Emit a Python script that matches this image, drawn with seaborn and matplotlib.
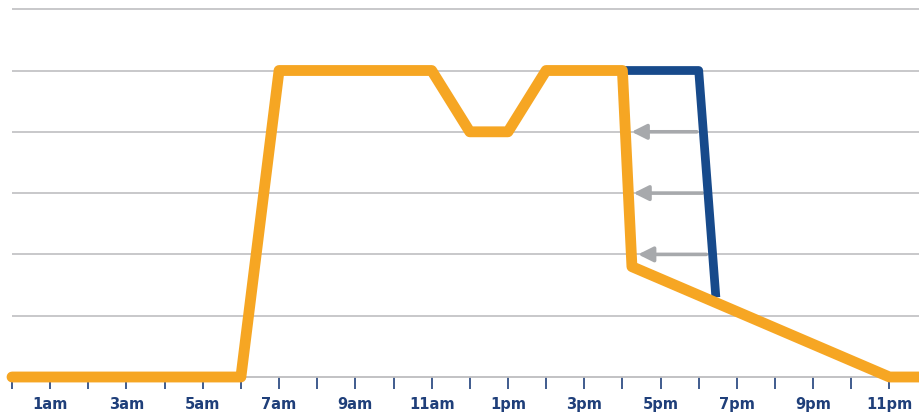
import matplotlib
matplotlib.use("Agg")
import matplotlib.pyplot as plt
import seaborn as sns
import pandas as pd

# Data (x in hours after midnight, y in grid levels)
orange_hours = [0, 6, 7, 11, 12, 13, 14, 16, 16.25, 23, 24]
orange_level = [0, 0, 5, 5, 4, 4, 5, 5, 1.8, 0, 0]
blue_hours = [16, 18, 18.45]
blue_level = [5, 5, 1.3]
arrow_level = [4, 3, 2]
arrow_tail = [17.95, 18.1, 18.2]
arrow_tip = [16.24, 16.29, 16.41]
tick_hours = list(range(0, 24))
label_hours = list(range(1, 24, 2))
tick_labels = ["1am", "3am", "5am", "7am", "9am", "11am",
               "1pm", "3pm", "5pm", "7pm", "9pm", "11pm"]

ORANGE = "#F6A623"
BLUE = "#174A8B"
GRAY = "#A7A9AC"
NAVY = "#1F3F7A"

sns.set_style("white")

fig = plt.figure(figsize=(9.19, 4.14), dpi=100)
ax = fig.add_axes([0, 36 / 414, 1, 378 / 414])

# grid lines
for lv in range(0, 7):
    ax.plot([0, 24], [lv, lv], color="#C4C4C6" if lv else "#BDBDBF",
            lw=1.3, zorder=1, solid_capstyle="butt")

# arrows
for lv, tail, tip in zip(arrow_level, arrow_tail, arrow_tip):
    ax.annotate("", xy=(tip, lv), xytext=(tail, lv),
                arrowprops=dict(arrowstyle="-|>,head_length=0.9,head_width=0.45",
                                color=GRAY, lw=2.6, shrinkA=0, shrinkB=0),
                zorder=2)

df_blue = pd.DataFrame({"hour": blue_hours, "level": blue_level})
df_orange = pd.DataFrame({"hour": orange_hours, "level": orange_level})

sns.lineplot(data=df_blue, x="hour", y="level", ax=ax, color=BLUE, lw=6.3,
             estimator=None, sort=False, zorder=3,
             solid_joinstyle="round", solid_capstyle="butt")
sns.lineplot(data=df_orange, x="hour", y="level", ax=ax, color=ORANGE, lw=7.8,
             estimator=None, sort=False, zorder=4,
             solid_joinstyle="round", solid_capstyle="round")
for ln in ax.lines:
    ln.set_clip_on(False)

ax.set_xlim(-12 / 38.15, (919 - 12) / 38.15)
ax.set_ylim(0, 378 / 61.3)

labels = dict(zip(label_hours, tick_labels))
ax.set_xticks(tick_hours)
ax.set_xticklabels([labels.get(h, "") for h in tick_hours])
ax.tick_params(axis="x", length=8.5, width=1.2, color=NAVY, direction="out",
               bottom=True, pad=5, labelsize=10.5, labelcolor=NAVY)
for lab in ax.get_xticklabels():
    lab.set_fontweight("bold")
ax.set_yticks([])
ax.set_xlabel("")
ax.set_ylabel("")
for s in ax.spines.values():
    s.set_visible(False)

fig.savefig("out.png", dpi=100)
